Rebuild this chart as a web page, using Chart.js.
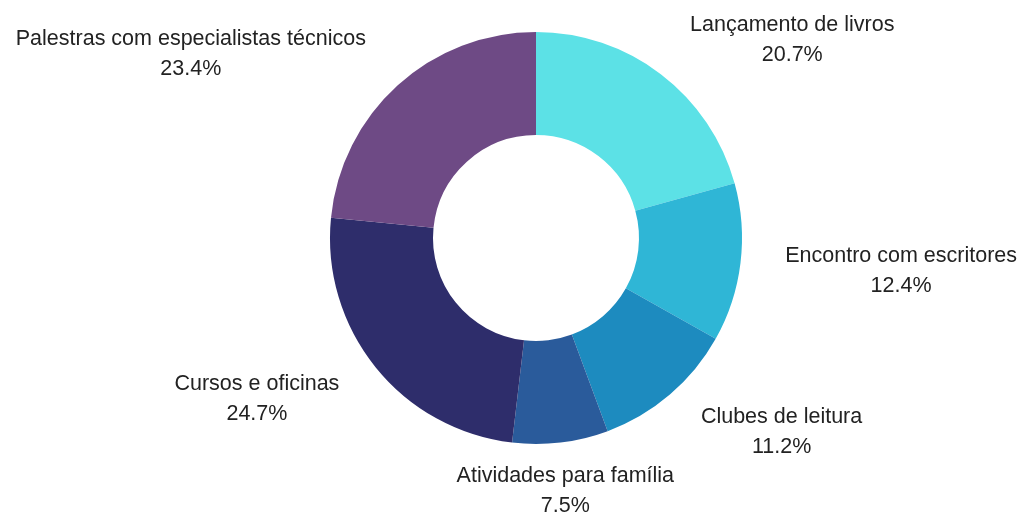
<!DOCTYPE html>
<html>
<head>
<meta charset="utf-8">
<script src="https://cdn.jsdelivr.net/npm/chart.js@4/dist/chart.umd.min.js"></script>
<style>
    html, body { margin: 0; padding: 0; background: #ffffff; }
    #wrap { width: 1025px; height: 513px; position: relative; }
</style>
</head>
<body>
<div id="wrap"><canvas id="donutChart"></canvas></div>
<script>
// Chart data
const categories = [
    'Lançamento de livros',
    'Encontro com escritores',
    'Clubes de leitura',
    'Atividades para família',
    'Cursos e oficinas',
    'Palestras com especialistas técnicos'
];
const shares = [20.7, 12.4, 11.2, 7.5, 24.7, 23.4];
const sliceColors = ['#5ce1e6', '#2fb6d6', '#1d8bbf', '#2a5b9b', '#2e2d6b', '#6e4a85'];

// Draws "name / value%" outside each slice, anchored along the slice's middle angle.
// Both lines are centred on each other; the block sits left/right/centre of the anchor.
const outsideLabels = {
    id: 'outsideLabels',
    afterDatasetsDraw(chart, args, opts) {
        const ctx = chart.ctx;
        const meta = chart.getDatasetMeta(0);
        ctx.save();
        ctx.fillStyle = opts.color;
        ctx.font = opts.font;
        ctx.textBaseline = 'middle';
        ctx.textAlign = 'center';
        meta.data.forEach((arc, i) => {
            const mid = (arc.startAngle + arc.endAngle) / 2;
            const r = arc.outerRadius + opts.offset;
            const ax = arc.x + Math.cos(mid) * r;
            // labels below the ring sit a little lower
            const ay = arc.y + Math.sin(mid) * r + 3 + 6 * Math.sin(mid);
            const line1 = chart.data.labels[i];
            const line2 = chart.data.datasets[0].data[i].toFixed(1) + '%';
            const w = Math.max(ctx.measureText(line1).width, ctx.measureText(line2).width);
            const c = Math.cos(mid);
            let cx = ax;
            if (c > 0.3) cx = ax + opts.padX + w / 2;
            else if (c < -0.3) cx = ax - opts.padX - w / 2;
            ctx.fillText(line1, cx, ay - opts.lineGap / 2);
            ctx.fillText(line2, cx, ay + opts.lineGap / 2);
        });
        ctx.restore();
    }
};

new Chart(document.getElementById('donutChart').getContext('2d'), {
    type: 'doughnut',
    data: {
        labels: categories,
        datasets: [{
            data: shares,
            backgroundColor: sliceColors,
            borderWidth: 0
        }]
    },
    options: {
        responsive: true,
        maintainAspectRatio: false,
        animation: false,
        cutout: '50%',
        layout: { padding: { top: 32, bottom: 69, left: 47, right: 0 } },
        plugins: {
            legend: { display: false },
            tooltip: { enabled: false },
            outsideLabels: {
                color: '#222222',
                font: '21.5px "Liberation Sans", Arial, sans-serif',
                offset: 40,
                padX: 5,
                lineGap: 30
            }
        }
    },
    plugins: [outsideLabels]
});
</script>
</body>
</html>
